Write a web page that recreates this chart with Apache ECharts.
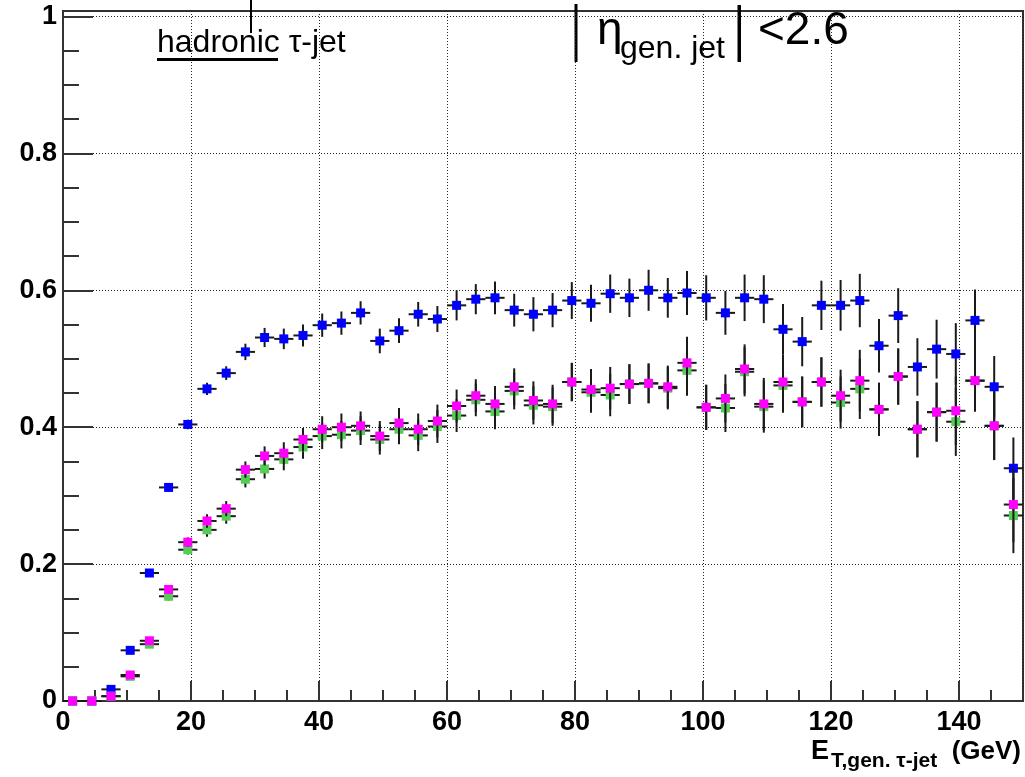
<!DOCTYPE html>
<html><head><meta charset="utf-8">
<script src="https://cdn.jsdelivr.net/npm/echarts@6/dist/echarts.min.js"></script>
<style>html,body{margin:0;padding:0;background:#fff}#c{width:1025px;height:777px}</style>
</head><body><div id="c"></div>
<script>
// Bin centres of E_T (GeV), bin half-width 1.5 GeV
const binCenters = [1.5, 4.5, 7.5, 10.5, 13.5, 16.5, 19.5, 22.5, 25.5, 28.5,
  31.5, 34.5, 37.5, 40.5, 43.5, 46.5, 49.5, 52.5, 55.5, 58.5,
  61.5, 64.5, 67.5, 70.5, 73.5, 76.5, 79.5, 82.5, 85.5, 88.5,
  91.5, 94.5, 97.5, 100.5, 103.5, 106.5, 109.5, 112.5, 115.5, 118.5,
  121.5, 124.5, 127.5, 130.5, 133.5, 136.5, 139.5, 142.5, 145.5, 148.5];
const binHalfWidth = 1.5;

const blueVals = [0.000, 0.000, 0.017, 0.074, 0.187, 0.312, 0.404, 0.456, 0.479, 0.510,
  0.531, 0.529, 0.534, 0.549, 0.552, 0.567, 0.526, 0.541, 0.565, 0.558,
  0.578, 0.587, 0.589, 0.571, 0.565, 0.571, 0.585, 0.581, 0.595, 0.589,
  0.600, 0.589, 0.596, 0.589, 0.567, 0.589, 0.587, 0.543, 0.525, 0.578,
  0.578, 0.585, 0.519, 0.563, 0.488, 0.514, 0.507, 0.556, 0.459, 0.340];
const blueErrs = [0.002, 0.002, 0.004, 0.005, 0.005, 0.006, 0.007, 0.009, 0.010, 0.012,
  0.014, 0.015, 0.016, 0.017, 0.017, 0.017, 0.018, 0.018, 0.018, 0.019,
  0.022, 0.022, 0.024, 0.024, 0.025, 0.025, 0.027, 0.027, 0.028, 0.028,
  0.030, 0.029, 0.032, 0.033, 0.032, 0.034, 0.035, 0.037, 0.036, 0.036,
  0.037, 0.039, 0.039, 0.040, 0.042, 0.043, 0.045, 0.045, 0.045, 0.045];

const greenVals = [0.000, 0.000, 0.007, 0.036, 0.083, 0.153, 0.221, 0.250, 0.270, 0.324,
  0.339, 0.353, 0.371, 0.387, 0.389, 0.395, 0.382, 0.397, 0.388, 0.401,
  0.417, 0.440, 0.423, 0.453, 0.432, 0.430, 0.466, 0.451, 0.447, 0.463,
  0.464, 0.457, 0.483, 0.429, 0.428, 0.481, 0.430, 0.461, 0.437, 0.466,
  0.436, 0.456, 0.426, 0.474, 0.397, 0.422, 0.408, 0.468, 0.402, 0.271];
const greenErrs = [0.002, 0.002, 0.003, 0.004, 0.005, 0.006, 0.007, 0.010, 0.011, 0.012,
  0.014, 0.016, 0.017, 0.019, 0.020, 0.021, 0.022, 0.022, 0.023, 0.024,
  0.024, 0.024, 0.026, 0.027, 0.028, 0.028, 0.028, 0.030, 0.031, 0.029,
  0.029, 0.031, 0.037, 0.033, 0.035, 0.036, 0.038, 0.040, 0.037, 0.036,
  0.038, 0.044, 0.039, 0.041, 0.041, 0.043, 0.050, 0.045, 0.050, 0.055];

const magentaVals = [0.000, 0.000, 0.007, 0.038, 0.088, 0.163, 0.232, 0.263, 0.281, 0.338,
  0.358, 0.362, 0.382, 0.397, 0.400, 0.402, 0.387, 0.406, 0.397, 0.409,
  0.431, 0.446, 0.434, 0.459, 0.439, 0.434, 0.466, 0.455, 0.457, 0.463,
  0.464, 0.459, 0.494, 0.429, 0.442, 0.485, 0.434, 0.466, 0.437, 0.466,
  0.446, 0.468, 0.426, 0.474, 0.397, 0.422, 0.424, 0.468, 0.402, 0.287];
const magentaErrs = [0.002, 0.002, 0.003, 0.004, 0.005, 0.006, 0.007, 0.010, 0.011, 0.012,
  0.014, 0.016, 0.017, 0.019, 0.020, 0.021, 0.022, 0.022, 0.023, 0.024,
  0.024, 0.024, 0.026, 0.027, 0.028, 0.028, 0.028, 0.030, 0.031, 0.029,
  0.029, 0.031, 0.038, 0.033, 0.035, 0.036, 0.038, 0.040, 0.037, 0.036,
  0.038, 0.045, 0.039, 0.041, 0.041, 0.043, 0.050, 0.045, 0.050, 0.055];

const xTickLabels = ['0', '20', '40', '60', '80', '100', '120', '140'];
const yTickLabels = ['0', '0.2', '0.4', '0.6', '0.8', '1'];

const chart = echarts.init(document.getElementById('c'), null, {renderer: 'canvas'});
const AX = '#333';
const labelFont = {fontFamily: 'Liberation Sans', fontWeight: 'bold', fontSize: 27, color: '#000'};

function makeRender(color) {
  return function (params, api) {
    const x = api.value(0), y = api.value(1), e = api.value(2);
    const pL = api.coord([x - binHalfWidth, y]), pR = api.coord([x + binHalfWidth, y]);
    const pT = api.coord([x, y + e]), pB = api.coord([x, y - e]);
    const c = api.coord([x, y]);
    const s = 9;
    return {type: 'group', children: [
      {type: 'line', shape: {x1: pL[0], y1: pL[1], x2: pR[0], y2: pR[1]}, style: {stroke: '#1a1a1a', lineWidth: 2}},
      {type: 'line', shape: {x1: pT[0], y1: pT[1], x2: pB[0], y2: pB[1]}, style: {stroke: '#1a1a1a', lineWidth: 2}},
      {type: 'rect', shape: {x: c[0] - s / 2, y: c[1] - s / 2, width: s, height: s}, style: {fill: color}}
    ]};
  };
}
function seriesOf(vals, errs, color, z) {
  return {
    type: 'custom', xAxisIndex: 0, yAxisIndex: 0, z: z, clip: false,
    renderItem: makeRender(color),
    encode: {x: 0, y: 1},
    data: binCenters.map((x, i) => [x, vals[i], errs[i]])
  };
}

const option = {
  animation: false,
  backgroundColor: '#fff',
  grid: {left: 63, right: 2, top: 11, bottom: 76, show: true, borderColor: AX, borderWidth: 2, backgroundColor: 'transparent'},
  xAxis: [
    {type: 'value', min: 0, max: 150, interval: 20, position: 'bottom',
     axisLine: {show: true, lineStyle: {color: AX, width: 2}},
     axisTick: {show: true, inside: true, length: 20, lineStyle: {color: AX, width: 2}},
     splitLine: {show: true, lineStyle: {color: '#222', width: 1, type: [1, 2]}},
     axisLabel: Object.assign({margin: 8, showMaxLabel: false,
       formatter: v => { const i = Math.round(v / 20); return (Math.abs(v - i * 20) < 1e-6 && i < xTickLabels.length) ? xTickLabels[i] : ''; }}, labelFont)},
    {type: 'value', min: 0, max: 150, interval: 5, position: 'bottom',
     axisLine: {show: false}, axisLabel: {show: false}, splitLine: {show: false},
     axisTick: {show: true, inside: true, length: 11, lineStyle: {color: AX, width: 2}}}
  ],
  yAxis: [
    {type: 'value', min: 0, max: 1.008, interval: 0.2, position: 'left',
     axisLine: {show: true, lineStyle: {color: AX, width: 2}},
     axisTick: {show: true, inside: true, length: 30, lineStyle: {color: AX, width: 2}},
     splitLine: {show: true, lineStyle: {color: '#222', width: 1, type: [1, 2]}},
     axisLabel: Object.assign({margin: 6, showMaxLabel: false,
       formatter: v => { const i = Math.round(v / 0.2); return (Math.abs(v - i * 0.2) < 1e-6 && i < yTickLabels.length) ? yTickLabels[i] : ''; }}, labelFont)},
    {type: 'value', min: 0, max: 1.008, interval: 0.05, position: 'left',
     axisLine: {show: false}, axisLabel: {show: false}, splitLine: {show: false},
     axisTick: {show: true, inside: true, length: 16, lineStyle: {color: AX, width: 2}}}
  ],
  series: [
    seriesOf(blueVals, blueErrs, '#0000ff', 3),
    seriesOf(greenVals, greenErrs, '#55cc55', 4),
    seriesOf(magentaVals, magentaErrs, '#ff00ff', 5)
  ],
  graphic: [
    {type: 'line', shape: {x1: 251, y1: 0, x2: 251, y2: 33}, style: {stroke: '#000', lineWidth: 2}},
    {type: 'text', x: 157, y: 43.5, style: {text: 'hadronic τ-jet', font: '32px "Liberation Sans"', fill: '#000', textAlign: 'left', textVerticalAlign: 'middle'}},
    {type: 'rect', shape: {x: 157, y: 58, width: 121, height: 3}, style: {fill: '#000'}},
    {type: 'rect', shape: {x: 574.5, y: 4, width: 3, height: 58}, style: {fill: '#000'}},
    {type: 'text', x: 597, y: 31.5, style: {text: 'η', font: '46px "Liberation Sans"', fill: '#000', textAlign: 'left', textVerticalAlign: 'middle'}},
    {type: 'text', x: 620, y: 49, style: {text: 'gen. jet', font: '32px "Liberation Sans"', fill: '#000', textAlign: 'left', textVerticalAlign: 'middle'}},
    {type: 'rect', shape: {x: 737.5, y: 5, width: 3.5, height: 57}, style: {fill: '#000'}},
    {type: 'text', x: 758, y: 31.5, style: {text: '<2.6', font: '46px "Liberation Sans"', fill: '#000', textAlign: 'left', textVerticalAlign: 'middle'}},
    {type: 'text', x: 811, y: 752, style: {text: 'E', font: 'bold 27px "Liberation Sans"', fill: '#000', textAlign: 'left', textVerticalAlign: 'middle'}},
    {type: 'text', x: 831, y: 761, style: {text: 'T,gen. τ-jet', font: 'bold 21px "Liberation Sans"', fill: '#000', textAlign: 'left', textVerticalAlign: 'middle'}},
    {type: 'text', x: 1021, y: 752, style: {text: '(GeV)', font: 'bold 26px "Liberation Sans"', fill: '#000', textAlign: 'right', textVerticalAlign: 'middle'}}
  ]
};
chart.setOption(option);
</script>
</body></html>
